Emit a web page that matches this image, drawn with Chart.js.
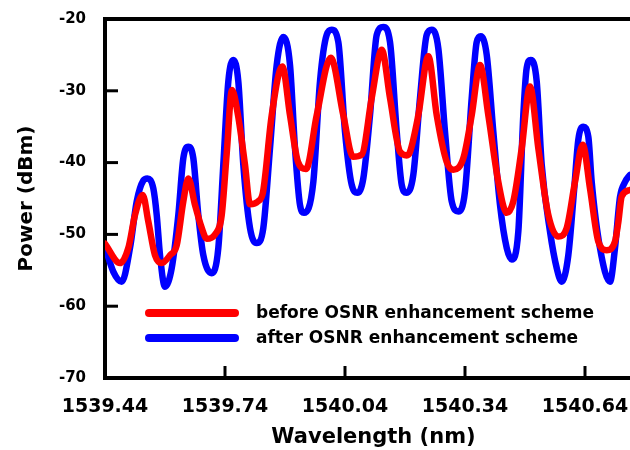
<!DOCTYPE html>
<html>
<head>
<meta charset="utf-8">
<script src="https://cdn.jsdelivr.net/npm/chart.js@4.4.1/dist/chart.umd.min.js"></script>
<style>
  html, body { margin: 0; padding: 0; background: #fff; overflow: hidden; }
  #clip { width: 630px; height: 450px; overflow: hidden; position: relative; }
  /* the original figure is cropped on the right, so the plot runs a little past the edge */
  #wrap { width: 642px; height: 450px; position: absolute; left: 0; top: 0; }
</style>
</head>
<body>
<div id="clip"><div id="wrap"><canvas id="osnr"></canvas></div></div>
<script>
// wavelength (nm) / power (dBm)
var wlBefore = [1539.44, 1539.4775, 1539.4983, 1539.515, 1539.5343, 1539.5483, 1539.565, 1539.5818,
  1539.6025, 1539.6193, 1539.6358, 1539.6483, 1539.665, 1539.6818, 1539.6943, 1539.715, 1539.7318,
  1539.7443, 1539.7575, 1539.7725, 1539.79, 1539.8025, 1539.8225, 1539.835, 1539.8568, 1539.8833,
  1539.9025, 1539.9225, 1539.9425, 1539.9693, 1540.0043, 1540.0358, 1540.06, 1540.0818, 1540.1068,
  1540.1318, 1540.1525, 1540.1775, 1540.1943, 1540.2025, 1540.2233, 1540.2483, 1540.2693, 1540.2943,
  1540.3108, 1540.3358, 1540.3568, 1540.3775, 1540.3983, 1540.4233, 1540.4443, 1540.4608, 1540.4818,
  1540.5025, 1540.5233, 1540.5483, 1540.5733, 1540.5943, 1540.615, 1540.6343, 1540.6525, 1540.6733,
  1540.6943, 1540.715, 1540.7233, 1540.7318, 1540.7525];
var pBefore = [-51.3, -54.0, -51.9, -47.3, -44.5, -48.2, -52.9, -54.0,
  -52.9, -51.5, -45.4, -42.2, -45.9, -49.1, -50.6, -50.0, -47.3,
  -38.7, -29.9, -33.4, -40.3, -45.8, -45.4, -44.1, -33.4, -26.6,
  -33.4, -39.9, -40.9, -33.4, -25.4, -33.4, -39.2, -38.9, -31.0,
  -24.3, -31.0, -38.5, -39.0, -38.5, -33.4, -25.2, -33.4, -39.9,
  -41.0, -39.4, -33.4, -26.4, -33.4, -42.7, -47.0, -45.4, -38.0,
  -29.4, -38.0, -47.3, -50.3, -49.1, -42.7, -37.5, -43.6, -51.0,
  -52.2, -51.0, -48.3, -44.7, -43.8];

var wlAfter = [1539.44, 1539.4608, 1539.4818, 1539.5025, 1539.5193, 1539.5358, 1539.5458, 1539.5608,
  1539.5693, 1539.5775, 1539.59, 1539.6068, 1539.6233, 1539.6358, 1539.6483, 1539.6608, 1539.6733,
  1539.6858, 1539.7068, 1539.7233, 1539.7358, 1539.7483, 1539.7608, 1539.7733, 1539.7858, 1539.8025,
  1539.8193, 1539.8358, 1539.8525, 1539.8693, 1539.8858, 1539.9025, 1539.915, 1539.9275, 1539.9375,
  1539.9608, 1539.9775, 1539.9943, 1540.0068, 1540.0233, 1540.04, 1540.0568, 1540.0708, 1540.0858,
  1540.1025, 1540.1193, 1540.1358, 1540.1525, 1540.1693, 1540.1818, 1540.1933, 1540.2108, 1540.2275,
  1540.2443, 1540.2568, 1540.2733, 1540.29, 1540.3068, 1540.3233, 1540.34, 1540.3568, 1540.3693,
  1540.3793, 1540.3943, 1540.4108, 1540.4275, 1540.4443, 1540.4568, 1540.4733, 1540.4858, 1540.4943,
  1540.5043, 1540.5193, 1540.5318, 1540.5525, 1540.5693, 1540.5818, 1540.5983, 1540.6125, 1540.6233,
  1540.6358, 1540.6483, 1540.6568, 1540.6775, 1540.7025, 1540.715, 1540.7275, 1540.74, 1540.7525];
var pAfter = [-51.7, -55.2, -56.6, -51.9, -45.4, -42.5, -42.2, -43.6,
  -47.3, -52.9, -57.3, -54.7, -47.3, -39.4, -37.8, -39.4, -47.3,
  -52.9, -55.4, -51.9, -40.3, -28.7, -25.7, -28.7, -40.3, -49.1,
  -51.2, -49.1, -38.0, -26.4, -22.5, -26.4, -38.0, -45.9, -47.0,
  -42.7, -28.7, -22.2, -21.5, -23.2, -35.7, -43.1, -44.2, -42.2,
  -33.4, -22.2, -21.1, -23.2, -35.7, -43.1, -44.2, -41.7, -31.0,
  -22.2, -21.5, -24.1, -35.7, -45.4, -46.8, -44.0, -31.0, -23.2,
  -22.4, -25.0, -35.7, -45.9, -51.9, -53.5, -49.6, -33.4, -26.8,
  -25.7, -28.7, -40.3, -49.6, -54.7, -56.6, -52.9, -44.0, -36.8,
  -35.0, -36.4, -42.7, -51.9, -56.6, -51.9, -44.8, -42.7, -41.7];

var xTicks = [1539.44, 1539.74, 1540.04, 1540.34, 1540.64];
var yTicks = [-70, -60, -50, -40, -30, -20];
var seriesNames = ['before OSNR enhancement scheme', 'after OSNR enhancement scheme'];

function pairs(xs, ys) {
  return xs.map(function(x, i) { return { x: x, y: ys[i] }; });
}

Chart.defaults.font.family = 'DejaVu Sans';
Chart.defaults.font.weight = 'bold';
Chart.defaults.color = '#000';

// frame top line, inward ticks and the legend inside the plot
var framePlugin = {
  id: 'frame',
  afterDraw: function(chart) {
    var ctx = chart.ctx, a = chart.chartArea;
    var xs = chart.scales.x, ys = chart.scales.y;
    ctx.save();
    ctx.strokeStyle = '#000';
    ctx.lineWidth = 4;
    ctx.beginPath();
    ctx.moveTo(a.left - 2, a.top);
    ctx.lineTo(a.right, a.top);
    ctx.stroke();

    ctx.lineWidth = 3;
    xTicks.forEach(function(v) {
      var px = xs.getPixelForValue(v);
      ctx.beginPath();
      ctx.moveTo(px, a.bottom);
      ctx.lineTo(px, a.bottom - 12);
      ctx.stroke();
    });
    yTicks.forEach(function(v) {
      var py = ys.getPixelForValue(v);
      ctx.beginPath();
      ctx.moveTo(a.left, py);
      ctx.lineTo(a.left + 13, py);
      ctx.stroke();
    });

    // legend
    ctx.font = 'bold 17px "DejaVu Sans"';
    ctx.textBaseline = 'middle';
    ctx.fillStyle = '#000';
    ctx.lineCap = 'round';
    chart.data.datasets.forEach(function(ds, i) {
      var y = a.bottom - 65 + i * 25;
      ctx.strokeStyle = ds.borderColor;
      ctx.lineWidth = 8;
      ctx.beginPath();
      ctx.moveTo(a.left + 44, y);
      ctx.lineTo(a.left + 130, y);
      ctx.stroke();
      ctx.fillText(ds.label, a.left + 151, y + 1);
    });
    ctx.restore();
  }
};

new Chart(document.getElementById('osnr'), {
  type: 'line',
  data: {
    datasets: [
      {
        label: seriesNames[0],
        data: pairs(wlBefore, pBefore),
        borderColor: 'rgb(255,0,0)',
        borderWidth: 6.5,
        pointRadius: 0,
        cubicInterpolationMode: 'monotone',
        borderJoinStyle: 'round',
        borderCapStyle: 'round'
      },
      {
        label: seriesNames[1],
        data: pairs(wlAfter, pAfter),
        borderColor: 'rgb(0,0,255)',
        borderWidth: 6.5,
        pointRadius: 0,
        cubicInterpolationMode: 'monotone',
        borderJoinStyle: 'round',
        borderCapStyle: 'round'
      }
    ]
  },
  options: {
    responsive: true,
    maintainAspectRatio: false,
    animation: false,
    layout: { padding: { top: 19, left: 0, right: 0, bottom: 0 } },
    plugins: {
      legend: { display: false },
      tooltip: { enabled: false }
    },
    scales: {
      x: {
        type: 'linear',
        min: 1539.44,
        max: 1540.7825,
        grid: { display: false, drawTicks: false },
        border: { display: true, color: '#000', width: 4 },
        afterBuildTicks: function(scale) {
          scale.ticks = xTicks.map(function(v) { return { value: v }; });
        },
        afterFit: function(scale) {
          scale.height = 72;
          scale.paddingLeft = 0;
          scale.paddingRight = 0;
        },
        ticks: {
          padding: 18,
          maxRotation: 0,
          autoSkip: false,
          font: { size: 19, weight: 'bold' },
          callback: function(v) { return v.toFixed(2); }
        },
        title: {
          display: true,
          text: 'Wavelength (nm)',
          font: { size: 21, weight: 'bold' },
          padding: { top: 0, bottom: 0 }
        }
      },
      y: {
        min: -70,
        max: -20,
        grid: { display: false, drawTicks: false },
        border: { display: true, color: '#000', width: 4 },
        afterBuildTicks: function(scale) {
          scale.ticks = yTicks.map(function(v) { return { value: v }; });
        },
        afterFit: function(scale) {
          scale.width = 105;
          scale.paddingTop = 0;
          scale.paddingBottom = 0;
        },
        ticks: {
          padding: 19,
          font: { size: 15, weight: 'bold' }
        },
        title: {
          display: true,
          text: 'Power (dBm)',
          font: { size: 20, weight: 'bold' },
          padding: { top: 15, bottom: 0 }
        }
      }
    }
  },
  plugins: [framePlugin]
});
</script>
</body>
</html>
